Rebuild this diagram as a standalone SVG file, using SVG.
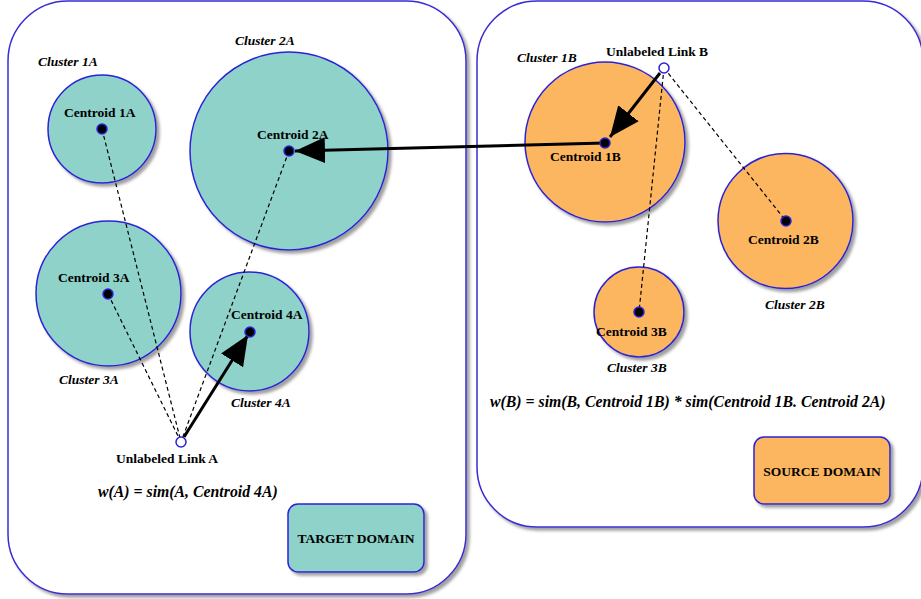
<svg xmlns="http://www.w3.org/2000/svg" width="921" height="599" viewBox="0 0 921 599">
<defs>
<filter id="sh" x="-10%" y="-10%" width="130%" height="130%">
<feDropShadow dx="3" dy="3" stdDeviation="1.5" flood-color="#888" flood-opacity="0.8"/>
</filter>
<marker id="ah" markerUnits="userSpaceOnUse" markerWidth="34" markerHeight="30" refX="30" refY="13" orient="auto">
<path d="M0,0 L30,13 L0,26 Z" fill="#000"/>
</marker>
<style>
.panel{fill:#fff;stroke:#3a2bd6;stroke-width:1.5;filter:url(#sh)}
.ta{fill:#8ed2c9;stroke:#2b22d8;stroke-width:1.5;filter:url(#sh)}
.so{fill:#fdb660;stroke:#2b22d8;stroke-width:1.5;filter:url(#sh)}
.dot{fill:#000;stroke:#2b22d8;stroke-width:1.5}
.link{fill:#fff;stroke:#2b22d8;stroke-width:1.5}
.dash{stroke:#000;stroke-width:1.2;stroke-dasharray:4 3;fill:none}
.arr{stroke:#000;stroke-width:3;fill:none;marker-end:url(#ah)}
text{font-family:"Liberation Serif","Times New Roman",serif;font-weight:bold;font-size:13.5px;fill:#000}
.it{font-style:italic}
.f{font-style:italic;font-size:15.8px}
</style>
</defs>
<g id="target-panel"><rect class="panel" x="8" y="1" width="458" height="593" rx="60" ry="60"/></g>
<g id="source-panel"><rect class="panel" x="477" y="1" width="446" height="526" rx="60" ry="60"/></g>

<g id="cluster1A"><circle class="ta" cx="102" cy="129" r="54"/><text class="it" x="38" y="66">Cluster 1A</text></g>
<g id="cluster2A"><circle class="ta" cx="289" cy="151" r="99"/><text class="it" x="235" y="45">Cluster 2A</text></g>
<g id="cluster3A"><circle class="ta" cx="108.5" cy="293.5" r="72.5"/><text class="it" x="59" y="384">Cluster 3A</text></g>
<g id="cluster4A"><circle class="ta" cx="249.5" cy="331.5" r="59.5"/><text class="it" x="231" y="407">Cluster 4A</text></g>
<g id="cluster1B"><circle class="so" cx="605" cy="142" r="80"/><text class="it" x="517" y="62">Cluster 1B</text></g>
<g id="cluster2B"><circle class="so" cx="785.5" cy="221" r="67.5"/><text class="it" x="765" y="309">Cluster 2B</text></g>
<g id="cluster3B"><circle class="so" cx="639" cy="312" r="45"/><text class="it" x="607" y="372">Cluster 3B</text></g>

<g id="connectors">
<line class="dash" x1="102" y1="129" x2="181" y2="442"/>
<line class="dash" x1="289" y1="151" x2="181" y2="442"/>
<line class="dash" x1="108" y1="294" x2="181" y2="442"/>
<line class="dash" x1="664" y1="68" x2="786" y2="221"/>
<line class="dash" x1="664" y1="68" x2="639" y2="312"/>
<line class="arr" x1="184" y1="437" x2="248" y2="335"/>
<line class="arr" x1="605" y1="143" x2="295" y2="151"/>
<line class="arr" x1="660" y1="73" x2="610" y2="137"/>
</g>

<g id="centroid1A"><circle class="dot" cx="102" cy="129" r="5"/><text x="64" y="117">Centroid 1A</text></g>
<g id="centroid2A"><circle class="dot" cx="289" cy="151" r="5"/><text x="257" y="139">Centroid 2A</text></g>
<g id="centroid3A"><circle class="dot" cx="108" cy="294" r="5"/><text x="58" y="282">Centroid 3A</text></g>
<g id="centroid4A"><circle class="dot" cx="250" cy="332" r="5"/><text x="231" y="319">Centroid 4A</text></g>
<g id="centroid1B"><circle class="dot" cx="605" cy="143" r="5"/><text x="550" y="161">Centroid 1B</text></g>
<g id="centroid2B"><circle class="dot" cx="786" cy="221" r="5"/><text x="748" y="244">Centroid 2B</text></g>
<g id="centroid3B"><circle class="dot" cx="639" cy="312" r="5"/><text x="596" y="336">Centroid 3B</text></g>

<g id="linkA"><circle class="link" cx="181" cy="442" r="5"/><text x="116" y="463">Unlabeled Link A</text></g>
<g id="linkB"><circle class="link" cx="664" cy="68" r="5"/><text x="606" y="56">Unlabeled Link B</text></g>

<g id="formulaA"><text class="f" x="98" y="497">w(A) = sim(A, Centroid 4A)</text></g>
<g id="formulaB"><text class="f" x="490" y="407">w(B) = sim(B, Centroid 1B) * sim(Centroid 1B. Centroid 2A)</text></g>

<g id="target-domain"><rect class="ta" x="288" y="504" width="136" height="68" rx="10" ry="10"/><text x="356" y="543" text-anchor="middle">TARGET DOMAIN</text></g>
<g id="source-domain"><rect class="so" x="754" y="437" width="136" height="67" rx="10" ry="10"/><text x="822" y="476" text-anchor="middle">SOURCE DOMAIN</text></g>
</svg>
